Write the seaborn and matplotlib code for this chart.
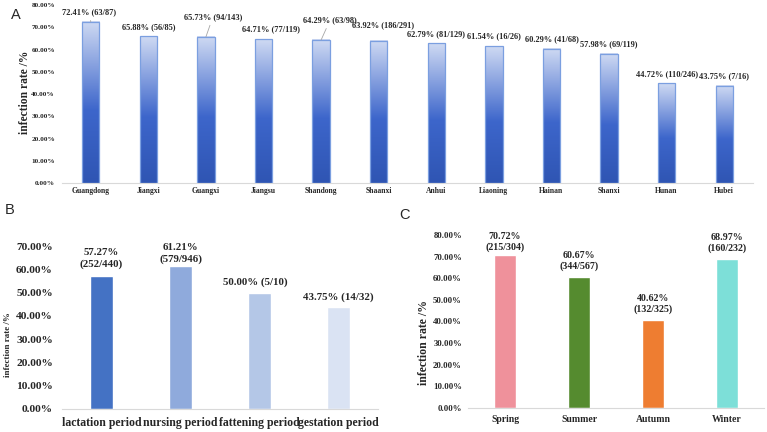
import numpy as np
import pandas as pd
import matplotlib
matplotlib.use('Agg')
import matplotlib.pyplot as plt
from matplotlib.colors import LinearSegmentedColormap
import seaborn as sns

# Panel A: infection rate by province
provinces = ['Guangdong', 'Jiangxi', 'Guangxi', 'Jiangsu', 'Shandong', 'Shaanxi',
             'Anhui', 'Liaoning', 'Hainan', 'Shanxi', 'Hunan', 'Hubei']
province_rate = [72.41, 65.88, 65.73, 64.71, 64.29, 63.92, 62.79, 61.54, 60.29, 57.98, 44.72, 43.75]
province_pos = [63, 56, 94, 77, 63, 186, 81, 16, 41, 69, 110, 7]
province_total = [87, 85, 143, 119, 98, 291, 129, 26, 68, 119, 246, 16]

# Panel B: infection rate by growth stage
stages = ['lactation period', 'nursing period', 'fattening period', 'gestation period']
stage_rate = [57.27, 61.21, 50.00, 43.75]
stage_pos = [252, 579, 5, 14]
stage_total = [440, 946, 10, 32]
stage_colors = ['#4472c4', '#8faadc', '#b4c7e7', '#dae3f3']

# Panel C: infection rate by season
seasons = ['Spring', 'Summer', 'Autumn', 'Winter']
season_rate = [70.72, 60.67, 40.62, 68.97]
season_pos = [215, 344, 132, 160]
season_total = [304, 567, 325, 232]
season_colors = ['#ef919b', '#558b2f', '#ee7d31', '#7ddfd8']

sns.set_theme(style='white')
plt.rcParams['font.family'] = ['Liberation Serif', 'DejaVu Serif']
plt.rcParams['font.weight'] = 'bold'

W, H = 767, 432
fig = plt.figure(figsize=(W / 100, H / 100), dpi=100)


def px_axes(x0, x1, ytop, ybot):
    return fig.add_axes([x0 / W, 1 - ybot / H, (x1 - x0) / W, (ybot - ytop) / H])


def style_axis(ax, ymax, ytick_size, xtick_size, xpad, ypad):
    ax.set_ylim(0, ymax)
    ax.set_yticks(np.arange(0, ymax + 1, 10))
    ax.yaxis.set_major_formatter(lambda v, p: f'{v:.2f}%')
    for s in ['top', 'right', 'left']:
        ax.spines[s].set_visible(False)
    ax.spines['bottom'].set_color('#d9d9d9')
    ax.spines['bottom'].set_linewidth(0.8)
    ax.tick_params(axis='y', length=0, labelsize=ytick_size, pad=ypad)
    ax.tick_params(axis='x', length=0, labelsize=xtick_size, pad=xpad)
    ax.set_xlabel('')
    ax.grid(False)


def set_ylabel(ax, size, x, y):
    ax.set_ylabel('infection rate /%', fontsize=size, fontweight='bold')
    ax.yaxis.label.set_va('center')
    ax.yaxis.set_label_coords(x, y)


# ---- A ----
axA = px_axes(62, 753, 5, 183)
dfA = pd.DataFrame({'province': provinces, 'rate': province_rate})
sns.barplot(data=dfA, x='province', y='rate', ax=axA, color='#3d66cb', saturation=1,
            width=0.3, edgecolor='#7b9fe0', linewidth=0.9)

# Excel-style vertical gradient fill, relative to each bar
grad_cmap = LinearSegmentedColormap.from_list(
    'bluegrad', [(0, '#2f55b3'), (0.45, '#3d66cb'), (1, '#cfdaf3')])
grad = np.linspace(0, 1, 256).reshape(-1, 1)
for bar in axA.patches:
    x, y, w, h = bar.get_x(), bar.get_y(), bar.get_width(), bar.get_height()
    axA.imshow(grad, extent=[x, x + w, y, y + h], origin='lower', aspect='auto',
               cmap=grad_cmap, zorder=bar.get_zorder() - 0.5)
    bar.set_facecolor('none')
axA.set_xlim(-0.5, len(provinces) - 0.5)
style_axis(axA, 80, 5.2, 5.5, 3, 5)
set_ylabel(axA, 8.3, -0.0535, 0.51)

offsetsA = {0: (-2, 10), 2: (7, 20), 3: (7, 9.5), 4: (9, 20), 5: (4, 16)}
leaders = {0, 2, 4}
for i, (r, p, n) in enumerate(zip(province_rate, province_pos, province_total)):
    dx, dy = offsetsA.get(i, (0, 9.5))
    kw = {}
    if i in leaders:
        kw['arrowprops'] = dict(arrowstyle='-', color='#a6a6a6', lw=0.6, shrinkA=1, shrinkB=0)
    axA.annotate(f'{r:.2f}% ({p}/{n})', xy=(i, r), xytext=(dx, dy),
                 textcoords='offset pixels', ha='center', va='center',
                 fontsize=6, fontweight='bold', annotation_clip=False, **kw)

# ---- B ----
axB = px_axes(62, 378, 246, 409)
dfB = pd.DataFrame({'stage': stages, 'rate': stage_rate})
sns.barplot(data=dfB, x='stage', y='rate', hue='stage', palette=stage_colors,
            saturation=1, width=0.3, legend=False, ax=axB)
style_axis(axB, 70, 8.2, 8.5, 5.5, 6.5)
set_ylabel(axB, 6.5, -0.17, 0.393)

offsetsB = [(0, 17), (0, 13), (-4, 10), (0, 10)]
for i, (r, p, n) in enumerate(zip(stage_rate, stage_pos, stage_total)):
    sep = '\n' if i < 2 else ' '
    axB.annotate(f'{r:.2f}%{sep}({p}/{n})', xy=(i, r), xytext=offsetsB[i],
                 textcoords='offset pixels', ha='center', va='center', linespacing=1.4,
                 fontsize=7.8, fontweight='bold', annotation_clip=False)

# ---- C ----
axC = px_axes(468, 764, 235, 408)
dfC = pd.DataFrame({'season': seasons, 'rate': season_rate})
sns.barplot(data=dfC, x='season', y='rate', hue='season', palette=season_colors,
            saturation=1, width=0.3, legend=False, ax=axC)
style_axis(axC, 80, 6.3, 7, 5, 4.3)
set_ylabel(axC, 8.5, -0.15, 0.38)

offsetsC = [13, 16, 16, 16]
for i, (r, p, n) in enumerate(zip(season_rate, season_pos, season_total)):
    axC.annotate(f'{r:.2f}%\n({p}/{n})', xy=(i, r), xytext=(0, offsetsC[i]),
                 textcoords='offset pixels', ha='center', va='center', linespacing=1.25,
                 fontsize=7.2, fontweight='bold', annotation_clip=False)

# panel letters
for letter, (lx, ly) in {'A': (16, 15), 'B': (10, 210), 'C': (405, 215)}.items():
    fig.text(lx / W, 1 - ly / H, letter, fontsize=10.5, fontweight='normal',
             family=['Liberation Sans', 'DejaVu Sans'], ha='center', va='center')

fig.savefig('out.png', dpi=100)
